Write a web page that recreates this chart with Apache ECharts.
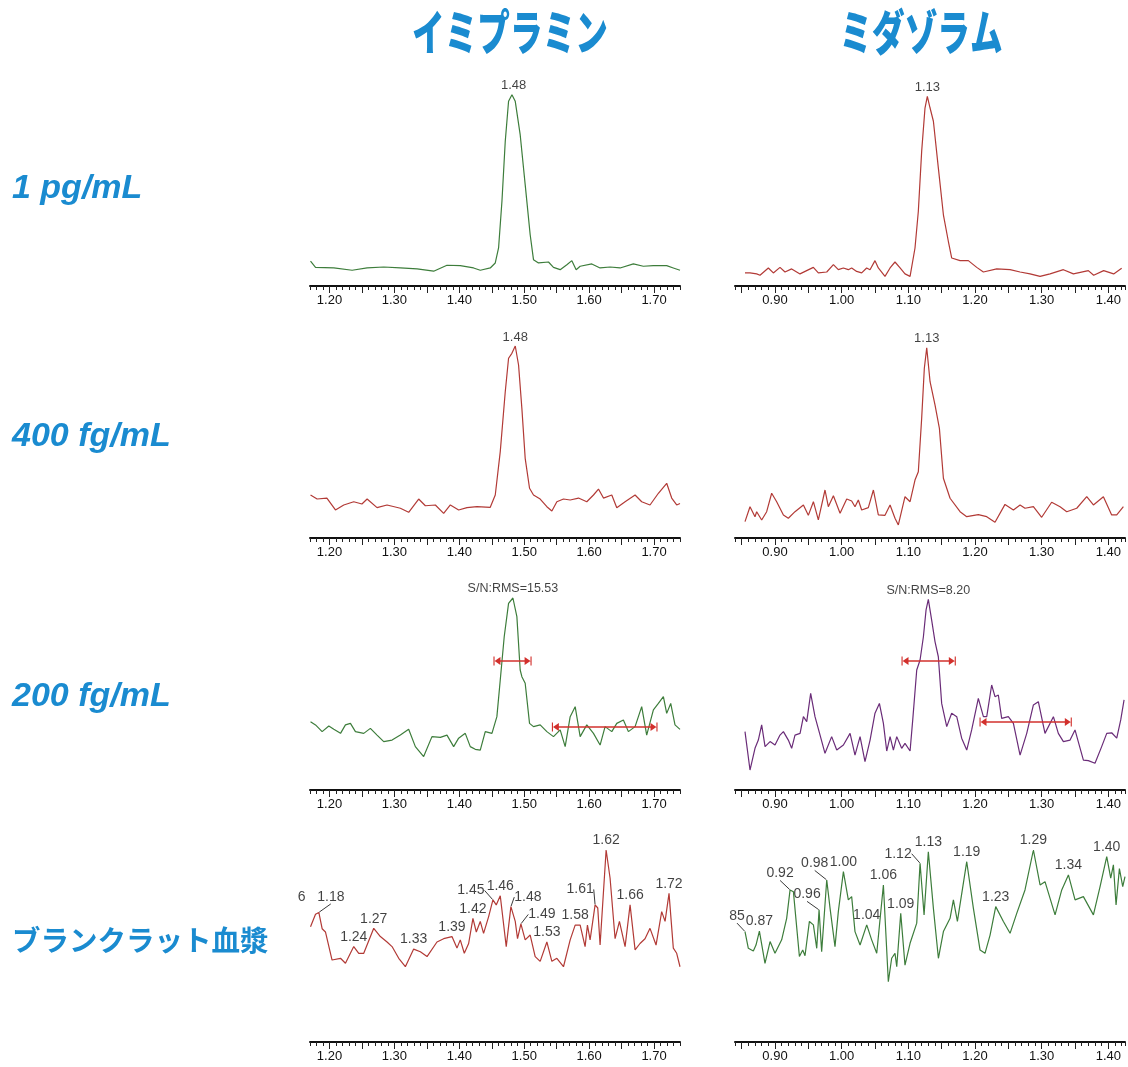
<!DOCTYPE html>
<html><head><meta charset="utf-8">
<script src="https://cdn.jsdelivr.net/npm/echarts@6/dist/echarts.min.js"></script>
<style>html,body{margin:0;padding:0;background:#fff}#c{width:1128px;height:1067px}</style>
</head><body><div id="c"></div>
<script>
// ---------- tick labels ----------
const leftTickLabels = ['1.20','1.30','1.40','1.50','1.60','1.70'];
const leftMajorTicks = [1.20,1.25,1.30,1.35,1.40,1.45,1.50,1.55,1.60,1.65,1.70];
const rightTickLabels = ['0.90','1.00','1.10','1.20','1.30','1.40'];
const rightMajorTicks = [0.85,0.90,0.95,1.00,1.05,1.10,1.15,1.20,1.25,1.30,1.35,1.40];

// ---------- titles ----------
const columnTitles = ['イミプラミン','ミダゾラム'];
const rowTitles = ['1 pg/mL','400 fg/mL','200 fg/mL','ブランクラット血漿'];

// ---------- series: [retention time (min), relative intensity (%)] ----------
const imi1pg = [[1.1708,12.9],[1.1785,9.7],[1.2067,9.4],[1.2349,8.2],[1.258,9.4],[1.2836,9.9],[1.3092,9.4],[1.335,8.9],[1.3605,7.7],[1.381,10.8],[1.4015,10.6],[1.422,9.4],[1.4323,8.2],[1.4477,9.4],[1.4554,12],[1.4605,19.8],[1.4657,44.1],[1.4708,75.4],[1.4759,96.2],[1.4811,99.6],[1.4836,100],[1.4862,96.2],[1.4887,95.3],[1.4938,78.8],[1.5015,52.8],[1.5092,26.7],[1.5143,13.7],[1.522,12],[1.5374,12.5],[1.5451,9.7],[1.5554,8.5],[1.5657,11.1],[1.5734,13.2],[1.58,8.5],[1.5862,10.3],[1.6041,11.5],[1.6169,9.4],[1.6323,9.9],[1.6477,9.4],[1.6682,11.5],[1.6835,10.3],[1.6989,10.6],[1.7195,10.6],[1.7297,9.4],[1.74,8.2]];
const imi1pgPeakT = [1.4836];
const imi1pgPeakText = ['1.48'];

const mid1pg = [[0.855,6.8],[0.8625,6.8],[0.8725,6.3],[0.8775,5.6],[0.89,9.4],[0.8975,6.8],[0.9075,9.7],[0.915,7.3],[0.925,8.9],[0.9375,6.3],[0.9475,8],[0.9575,9.7],[0.965,6.8],[0.9776,7.3],[0.9876,11.1],[0.995,8.5],[1.0025,9.4],[1.01,8.5],[1.015,9.4],[1.0225,7.6],[1.03,6.8],[1.0375,9.4],[1.0425,8.5],[1.05,13.2],[1.055,9.4],[1.065,5],[1.0726,9.4],[1.08,12.5],[1.0876,9.4],[1.095,6.3],[1.1026,5],[1.11,19.8],[1.115,38.9],[1.12,70.1],[1.125,92.7],[1.1285,98.8],[1.1326,92.7],[1.1376,85.8],[1.145,61.5],[1.1526,37.1],[1.16,23.3],[1.165,14.6],[1.1776,13.2],[1.19,13.2],[1.2026,9.7],[1.2126,7.3],[1.2326,8.9],[1.2526,8.5],[1.2676,7.3],[1.2826,6.3],[1.2976,5],[1.3126,6.3],[1.3326,8.5],[1.3476,6.3],[1.37,8],[1.378,5.6],[1.393,8],[1.408,6.3],[1.42,9.2]];
const mid1pgPeakT = [1.1285];
const mid1pgPeakText = ['1.13'];

const imi400 = [[1.1708,22.4],[1.181,20.3],[1.196,20.8],[1.2092,14.6],[1.222,17.2],[1.2374,18.9],[1.25,17.7],[1.258,20.3],[1.2733,15.8],[1.2887,17.2],[1.3092,15.5],[1.322,13.4],[1.3374,20.3],[1.3477,16.8],[1.3631,17.2],[1.3759,12.8],[1.3862,17.2],[1.399,14.6],[1.4118,15.8],[1.4272,16.3],[1.4477,16],[1.4554,22.4],[1.4631,45],[1.4708,76.2],[1.4759,93.6],[1.481,96.2],[1.4862,100],[1.4913,90.1],[1.4964,67.5],[1.5015,41.5],[1.5082,25.9],[1.5143,22.4],[1.5246,20.3],[1.5349,16.3],[1.5426,14.1],[1.5503,18.9],[1.5605,20.3],[1.5708,19.8],[1.5836,20.8],[1.5964,18.9],[1.6067,22.4],[1.6144,25.5],[1.6221,20.8],[1.6349,22.4],[1.6426,15.8],[1.6554,18.9],[1.6708,22.4],[1.681,18.9],[1.6938,17.2],[1.7067,23.3],[1.7195,28.5],[1.7272,20.8],[1.7349,17.2],[1.74,18]];
const imi400PeakT = [1.4862];
const imi400PeakText = ['1.48'];

const mid400 = [[0.855,8.5],[0.8625,16.3],[0.87,11.1],[0.8725,13.7],[0.88,9.4],[0.8875,13.7],[0.895,23.3],[0.9025,18.9],[0.9126,12],[0.92,10.3],[0.93,13.7],[0.9426,17.2],[0.95,11.8],[0.9576,18.9],[0.965,9.4],[0.975,25],[0.98,16.3],[0.9876,22],[0.9976,12.9],[1.0076,20.3],[1.015,19.3],[1.02,16.3],[1.025,19.8],[1.03,14.6],[1.04,15.8],[1.0476,25],[1.055,12],[1.065,11.8],[1.0726,17.2],[1.08,10.3],[1.085,6.8],[1.095,21.5],[1.1026,18.9],[1.11,30.2],[1.115,34.5],[1.12,62.3],[1.124,88.4],[1.1276,99.1],[1.1326,81.4],[1.14,69.3],[1.1466,57.1],[1.1526,31.1],[1.1626,20.7],[1.1776,13.7],[1.1876,11.1],[1.205,12.2],[1.2176,11.1],[1.23,8.2],[1.245,17.5],[1.2576,14.6],[1.2676,17.2],[1.275,15.5],[1.2876,16.3],[1.3,10.8],[1.315,18.6],[1.3276,16.3],[1.3376,13.7],[1.3526,15.5],[1.3676,21.5],[1.3776,17.2],[1.3926,21.5],[1.405,12],[1.4126,12],[1.4226,16.3]];
const mid400PeakT = [1.1276];
const mid400PeakText = ['1.13'];

const imi200 = [[1.1708,35.6],[1.1785,33.9],[1.1887,30.4],[1.199,33.3],[1.2067,31.6],[1.217,29.5],[1.2246,33.9],[1.2323,34.7],[1.24,30.4],[1.2528,29.5],[1.263,32.1],[1.2733,28.6],[1.2836,25.2],[1.2964,26],[1.3092,28.6],[1.322,31.6],[1.3323,22.6],[1.3451,17.4],[1.3579,27.8],[1.3708,27.4],[1.381,28.6],[1.3913,22.6],[1.399,27],[1.4092,29.5],[1.4169,22.6],[1.4246,21.2],[1.4323,20.8],[1.44,30.4],[1.4503,29.5],[1.4579,38.2],[1.4631,57.3],[1.4692,79.8],[1.4759,97.2],[1.4826,100],[1.4887,90.3],[1.4938,62.5],[1.4964,59],[1.5015,55.6],[1.5082,34.7],[1.5143,33],[1.5246,33.9],[1.5349,30.4],[1.5451,27.8],[1.5554,31.3],[1.5631,22.6],[1.5708,38.2],[1.5785,43.4],[1.5862,27.8],[1.5964,33.9],[1.6067,29.5],[1.6169,23.4],[1.6246,33],[1.6349,30.4],[1.6426,34.7],[1.6528,36.5],[1.6605,30.4],[1.6708,33],[1.681,43.4],[1.6887,28.6],[1.699,41.7],[1.7067,45.1],[1.7144,48.6],[1.7195,39.9],[1.7257,45.1],[1.7323,33.9],[1.74,31.6]];
const imi200PeakT = [1.4826];
const imi200PeakText = ['S/N:RMS=15.53'];
const imi200Brackets = [[1.458,1.506,67.2],[1.548,1.700,32.8]];

const mid200 = [[0.855,30.4],[0.8625,10.4],[0.87,21.7],[0.875,26],[0.88,33.9],[0.8851,22.6],[0.8926,25.2],[0.9,23.4],[0.9075,28.6],[0.9126,30.4],[0.92,26],[0.925,21.7],[0.93,28.6],[0.9376,29.5],[0.9426,38.2],[0.9476,35.6],[0.9535,50.3],[0.96,38.2],[0.9676,28.6],[0.975,19.1],[0.985,27.8],[0.9926,20.8],[1.0026,23.4],[1.0126,29.5],[1.02,18.2],[1.0276,27.8],[1.035,14.8],[1.0426,26],[1.05,40],[1.0566,45.1],[1.0626,34.7],[1.0676,20.3],[1.0726,27.8],[1.0776,20.8],[1.0826,27.8],[1.09,21.7],[1.095,24.3],[1.1026,20.3],[1.1066,36.5],[1.1126,62.5],[1.1176,67.7],[1.1226,79.8],[1.1266,93.8],[1.13,99.3],[1.135,88.5],[1.14,77.3],[1.145,69.4],[1.15,45.1],[1.1576,33],[1.165,40],[1.1726,38.2],[1.18,27],[1.1876,20.8],[1.195,31.3],[1.205,47.7],[1.2126,38.2],[1.2176,38.2],[1.225,54.7],[1.23,48.6],[1.235,49.5],[1.24,37.3],[1.25,38.2],[1.2576,34.7],[1.2676,18.2],[1.2776,29.5],[1.2876,44.3],[1.295,46],[1.305,29.5],[1.3176,38.2],[1.325,29.5],[1.3326,25.2],[1.3426,26],[1.35,31.3],[1.3626,15.6],[1.37,15.3],[1.38,13.9],[1.39,22.6],[1.3976,29.5],[1.405,29.8],[1.4126,27],[1.4186,36.5],[1.4236,46.9]];
const mid200PeakT = [1.13];
const mid200PeakText = ['S/N:RMS=8.20'];
const mid200Brackets = [[1.095,1.166,67.2],[1.212,1.340,35.4]];

const imiBlank = [[1.1708,60],[1.1785,66.5],[1.1836,67.5],[1.1887,59],[1.1938,57.3],[1.204,42.7],[1.217,43.6],[1.2246,41],[1.2374,49.7],[1.2451,46.2],[1.2528,46.2],[1.2682,59.2],[1.2784,54.9],[1.2887,52.1],[1.2964,49.7],[1.3067,43.6],[1.3169,39.2],[1.3297,48.4],[1.34,47],[1.3503,44.5],[1.3656,52.1],[1.3759,53.8],[1.3887,54.9],[1.3964,48.9],[1.4015,53.2],[1.4077,46.2],[1.4144,51.3],[1.421,64.4],[1.4262,57.3],[1.4323,62.8],[1.4374,56.6],[1.4451,65.2],[1.4518,74],[1.4569,71.4],[1.4631,76.2],[1.4723,49.7],[1.4795,70.5],[1.4862,62.8],[1.4897,53.8],[1.4949,61.5],[1.5015,53.2],[1.5092,55.7],[1.5169,44.5],[1.5246,42],[1.5349,52.1],[1.5426,42],[1.5503,43.6],[1.5605,39.2],[1.5708,53.2],[1.5785,60.9],[1.5862,60.9],[1.5938,49.7],[1.5974,60.9],[1.6015,53.2],[1.6092,71.4],[1.6133,69.8],[1.6169,50.5],[1.6262,100],[1.6323,85.3],[1.64,53.8],[1.6467,62.8],[1.6554,49.7],[1.6631,71.4],[1.6708,48],[1.6784,51.3],[1.6861,53.8],[1.6938,59.2],[1.7031,50.5],[1.7118,67.9],[1.717,62.8],[1.7231,77.4],[1.7297,48.9],[1.7349,46.2],[1.74,39.2]];
const imiBlankPeakT = [1.1708,1.1836,1.2374,1.2682,1.3297,1.3887,1.421,1.4518,1.4631,1.4795,1.4949,1.5349,1.5785,1.6092,1.6262,1.6631,1.7231];
const imiBlankPeakText = ['6','1.18','1.24','1.27','1.33','1.39','1.42','1.45','1.46','1.48','1.49','1.53','1.58','1.61','1.62','1.66','1.72'];

const midBlank = [[0.855,57.5],[0.86,48.8],[0.8675,47.4],[0.8715,50.5],[0.8766,57.8],[0.885,41],[0.8926,52.3],[0.9,46.2],[0.91,53.2],[0.9175,64.4],[0.9226,79.2],[0.9276,78.3],[0.9366,44.5],[0.9416,47.9],[0.945,44.9],[0.9516,62.8],[0.9576,61],[0.9626,48.8],[0.9661,68.8],[0.97,47],[0.9776,84.4],[0.9826,69.6],[0.99,49.7],[0.995,67.9],[1.0026,88.7],[1.01,74],[1.015,75.7],[1.02,57.5],[1.0276,50.5],[1.0376,61],[1.045,53.2],[1.0526,46.2],[1.0626,81.8],[1.07,31.4],[1.075,43.6],[1.08,46.2],[1.0826,39.2],[1.0886,67],[1.095,40],[1.1026,51.4],[1.1126,61.9],[1.1176,93.1],[1.1236,66.2],[1.13,99.1],[1.1376,69.6],[1.1451,43.6],[1.1526,57.5],[1.1626,64.4],[1.1676,74],[1.1736,62.8],[1.1876,93.9],[1.1976,69.6],[1.2076,47.9],[1.215,46.2],[1.2226,55.7],[1.2311,70.5],[1.2426,62.8],[1.2526,56.6],[1.2626,67],[1.275,79.2],[1.2876,100],[1.2976,81.8],[1.305,83.5],[1.3201,66.2],[1.3301,79.2],[1.3401,87],[1.3501,74],[1.3626,75.7],[1.3776,66.2],[1.3876,80.9],[1.3976,96.5],[1.4036,85.3],[1.4076,92.3],[1.4116,71.4],[1.4166,90.3],[1.4216,80.9],[1.425,86.1]];
const midBlankPeakT = [0.855,0.8766,0.9226,0.9661,0.9776,1.0026,1.0376,1.0626,1.0886,1.1176,1.13,1.1876,1.2311,1.2876,1.3401,1.3976];
const midBlankPeakText = ['85','0.87','0.92','0.96','0.98','1.00','1.04','1.06','1.09','1.12','1.13','1.19','1.23','1.29','1.34','1.40'];

// ---------- styling / layout ----------
const GREEN = '#3d7d3b', RED = '#b23a36', PURPLE = '#6a2c78', BRACKET = '#d2302c', BLUE = '#1a8bd0';
const cols = [
  {left:310, width:370, min:1.17, max:1.74, major:leftMajorTicks, labels:leftTickLabels},
  {left:735, width:390, min:0.84, max:1.425, major:rightMajorTicks, labels:rightTickLabels}
];
const axisY = [286, 538, 790, 1042];
const plotH = 192;
const rowLabelY = [189, 437, 697, 940];
// leader-line label offsets [dx, dy, showLine]
const leaderOffsets = {
  imiBlank: {'6':[-9,-20,false],'1.18':[12,-6,true],'1.45':[-22,0,true],'1.48':[17,0,true],'1.49':[21,0,true],'1.61':[-15,-6,true]},
  midBlank: {'85':[-8,-6,true],'0.92':[-10,-7,true],'0.96':[-12,-6,true],'0.98':[-12,-7,true],'1.12':[-22,0,true]}
};

const panels = [
  {row:0,col:0,data:imi1pg,color:GREEN,pt:imi1pgPeakT,ptx:imi1pgPeakText,fs:13},
  {row:0,col:1,data:mid1pg,color:RED,pt:mid1pgPeakT,ptx:mid1pgPeakText,fs:13},
  {row:1,col:0,data:imi400,color:RED,pt:imi400PeakT,ptx:imi400PeakText,fs:13},
  {row:1,col:1,data:mid400,color:RED,pt:mid400PeakT,ptx:mid400PeakText,fs:13},
  {row:2,col:0,data:imi200,color:GREEN,pt:imi200PeakT,ptx:imi200PeakText,br:imi200Brackets,fs:12.5},
  {row:2,col:1,data:mid200,color:PURPLE,pt:mid200PeakT,ptx:mid200PeakText,br:mid200Brackets,fs:12.5},
  {row:3,col:0,data:imiBlank,color:RED,pt:imiBlankPeakT,ptx:imiBlankPeakText,off:leaderOffsets.imiBlank,fs:14},
  {row:3,col:1,data:midBlank,color:GREEN,pt:midBlankPeakT,ptx:midBlankPeakText,off:leaderOffsets.midBlank,fs:14}
];

const bracketSym = 'path://M0,0H10V1.6H0Z M5,1.6L0.5,10H9.5Z';
const grid = [], xAxis = [], yAxis = [], series = [];
panels.forEach((p, k) => {
  const c = cols[p.col];
  grid.push({left:c.left, width:c.width, top:axisY[p.row]-plotH, height:plotH, containLabel:false});
  xAxis.push({gridIndex:k, type:'value', position:'bottom', min:c.min, max:c.max, interval:0.01,
    axisLine:{show:true, onZero:false, lineStyle:{color:'#111', width:2}},
    axisTick:{show:true, length:4, lineStyle:{color:'#222', width:1}},
    axisLabel:{show:false}, splitLine:{show:false}});
  xAxis.push({gridIndex:k, type:'value', position:'bottom', min:c.min, max:c.max,
    axisLine:{show:false, onZero:false},
    axisTick:{show:true, length:7, customValues:c.major, lineStyle:{color:'#222', width:1}},
    axisLabel:{show:true, customValues:c.labels.map(Number), formatter:v=>Number(v).toFixed(2),
      margin:8, fontSize:13, color:'#111', fontFamily:'"Liberation Sans", Arial, sans-serif'},
    splitLine:{show:false}});
  yAxis.push({gridIndex:k, type:'value', min:0, max:100, show:false});
  const line = {type:'line', xAxisIndex:2*k, yAxisIndex:k, data:p.data, showSymbol:false, symbol:'none',
    clip:false, silent:true, animation:false, lineStyle:{color:p.color, width:1.2}};
  if (p.br) {
    line.markLine = {silent:true, animation:false, symbol:[bracketSym, bracketSym], symbolSize:[9,7],
      label:{show:false}, lineStyle:{color:BRACKET, width:1.6, type:'solid'},
      data:p.br.map(b=>[{coord:[b[0],b[2]]},{coord:[b[1],b[2]]}])};
  }
  series.push(line);
  const offs = [];
  const lab = p.pt.map((t, i) => {
    let best = p.data[0];
    p.data.forEach(d => { if (Math.abs(d[0]-t) < Math.abs(best[0]-t)) best = d; });
    const o = p.off && p.off[p.ptx[i]];
    offs.push(o || null);
    return {value:[best[0], best[1]], name:p.ptx[i], labelLine:{show: !!(o && o[2])}};
  });
  series.push({type:'scatter', xAxisIndex:2*k, yAxisIndex:k, data:lab, symbolSize:1, silent:true, animation:false,
    itemStyle:{color:'rgba(0,0,0,0)'}, clip:false,
    label:{show:true, position:'top', distance:2, formatter:q=>q.name, fontSize:p.fs, color:'#111',
      fontFamily:'"Liberation Sans", Arial, sans-serif'},
    labelLine:{show:false, lineStyle:{color:'#222', width:0.9}},
    labelLayout:q=>{const o = offs[q.dataIndex]; return o ? {dx:o[0], dy:o[1]} : {};}
  });
});

const graphic = [
  {type:'text', x:510, y:32, scaleX:0.68, style:{text:columnTitles[0], fill:BLUE, align:'center', verticalAlign:'middle',
    font:'900 48px "Noto Sans CJK JP"'}},
  {type:'text', x:921, y:32, scaleX:0.68, style:{text:columnTitles[1], fill:BLUE, align:'center', verticalAlign:'middle',
    font:'900 48px "Noto Sans CJK JP"'}}
];
rowTitles.forEach((t, i) => {
  graphic.push({type:'text', x:12, y:rowLabelY[i], style:{text:t, fill:BLUE, align:'left', verticalAlign:'middle',
    font: i < 3 ? 'italic bold 34px "Liberation Sans"' : 'bold 28.5px "Noto Sans CJK JP"'}});
});

const chart = echarts.init(document.getElementById('c'), null, {renderer:'canvas'});
chart.setOption({animation:false, backgroundColor:'#fff', grid, xAxis, yAxis, series, graphic});
</script>
</body></html>
